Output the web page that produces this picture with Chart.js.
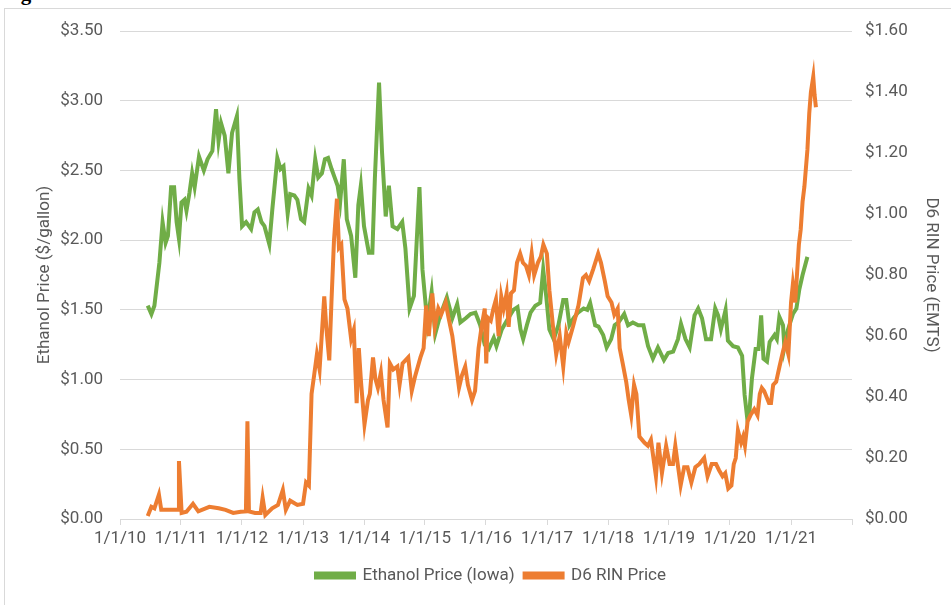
<!DOCTYPE html>
<html>
<head>
<meta charset="utf-8">
<script src="https://cdn.jsdelivr.net/npm/chart.js@4/dist/chart.umd.min.js"></script>
<style>
  html, body { margin: 0; padding: 0; background: #fff; }
  #wrap { position: relative; width: 951px; height: 605px; overflow: hidden; }
  #frame { position: absolute; left: 4px; top: 8px; width: 960px; height: 620px; border: 1px solid #d9d9d9; }
  #title { position: absolute; left: 2px; top: -19px; font: bold 21px "Liberation Serif", serif; color: #000; white-space: nowrap; }
  canvas { position: absolute; left: 0; top: 0; }
</style>
</head>
<body>
<div id="wrap">
  <div id="title">Figure 3. Iowa Ethanol Prices and D6 RIN Prices</div>
  <div id="frame"></div>
  <canvas id="myChart" width="951" height="605"></canvas>
</div>
<script>
// ethanol price, Iowa ($/gallon), left axis
var ethDates = ['2010-06-16','2010-07-08','2010-07-26','2010-08-25','2010-09-13','2010-10-01','2010-10-15','2010-11-03','2010-11-21','2010-12-06','2010-12-20',
  '2011-01-04','2011-01-22','2011-02-03','2011-02-21','2011-03-09','2011-03-24','2011-04-19','2011-05-18','2011-06-09','2011-07-08','2011-07-30','2011-08-14','2011-08-29','2011-09-20','2011-10-12','2011-11-03','2011-12-02','2011-12-17',
  '2012-01-02','2012-01-26','2012-02-25','2012-03-16','2012-04-05','2012-04-27','2012-05-15','2012-06-13','2012-07-01','2012-07-31','2012-08-19','2012-09-06','2012-10-01','2012-10-16','2012-11-10','2012-11-28','2012-12-20',
  '2013-01-08','2013-02-03','2013-02-21','2013-03-15','2013-04-02','2013-04-24','2013-05-12','2013-05-31','2013-06-21','2013-07-09','2013-07-27','2013-08-11','2013-09-02','2013-09-20','2013-10-16','2013-11-10','2013-11-28','2013-12-13',
  '2014-01-01','2014-01-30','2014-02-20','2014-03-07','2014-04-01','2014-04-19','2014-05-11','2014-05-30','2014-06-21','2014-07-20','2014-08-18','2014-09-06','2014-10-01','2014-10-27','2014-11-29','2014-12-17',
  '2015-01-15','2015-02-10','2015-03-04','2015-04-02','2015-05-12','2015-06-14','2015-07-13','2015-08-01','2015-09-02','2015-10-01','2015-10-30','2015-11-28','2015-12-25',
  '2016-01-18','2016-02-17','2016-03-04','2016-04-05','2016-05-04','2016-06-13','2016-07-08','2016-07-26','2016-08-11','2016-09-02','2016-09-24','2016-10-23','2016-11-21','2016-12-09','2016-12-27',
  '2017-01-15','2017-02-10','2017-03-10','2017-04-08','2017-04-26','2017-05-15','2017-06-09','2017-07-05','2017-08-08','2017-08-30','2017-09-16','2017-10-16','2017-11-05','2017-12-03','2017-12-24',
  '2018-01-20','2018-02-10','2018-03-05','2018-04-08','2018-05-01','2018-05-30','2018-07-01','2018-08-01','2018-08-29','2018-09-27','2018-10-27','2018-12-02','2018-12-27',
  '2019-01-26','2019-02-24','2019-03-14','2019-04-10','2019-05-05','2019-06-03','2019-06-25','2019-07-18','2019-08-11','2019-09-10','2019-10-05','2019-10-22','2019-11-08','2019-12-06','2019-12-20',
  '2020-01-20','2020-02-18','2020-03-14','2020-03-29','2020-04-13','2020-04-27','2020-05-12','2020-06-03','2020-06-20','2020-07-06','2020-07-20','2020-08-10','2020-08-26','2020-09-24','2020-10-08','2020-10-23','2020-11-14','2020-11-22','2020-12-14',
  '2021-01-12','2021-02-02','2021-02-20','2021-03-11','2021-04-09'];
var ethPrice = [1.53,1.47,1.53,1.84,2.13,1.98,2.03,2.38,2.38,2.13,2.01,
  2.27,2.29,2.21,2.34,2.48,2.38,2.60,2.50,2.58,2.64,2.94,2.71,2.84,2.75,2.48,2.77,2.89,2.44,
  2.10,2.13,2.08,2.20,2.22,2.13,2.10,1.97,2.22,2.59,2.51,2.53,2.19,2.33,2.32,2.29,2.15,
  2.13,2.37,2.32,2.58,2.45,2.48,2.58,2.59,2.51,2.45,2.39,2.27,2.58,2.15,2.03,1.73,2.25,2.39,
  2.10,1.91,1.91,2.44,3.13,2.63,2.17,2.39,2.10,2.08,2.13,1.94,1.51,1.60,2.38,1.79,
  1.41,1.63,1.33,1.46,1.59,1.44,1.54,1.41,1.44,1.47,1.48,1.39,1.25,
  1.22,1.30,1.24,1.36,1.42,1.50,1.52,1.36,1.29,1.39,1.48,1.53,1.55,1.79,1.60,
  1.36,1.29,1.39,1.57,1.57,1.39,1.44,1.48,1.51,1.50,1.55,1.39,1.38,1.32,1.23,
  1.29,1.39,1.41,1.47,1.39,1.41,1.39,1.39,1.24,1.15,1.23,1.14,1.19,
  1.20,1.29,1.40,1.29,1.23,1.46,1.51,1.44,1.29,1.29,1.51,1.46,1.36,1.50,1.28,
  1.24,1.23,1.17,0.89,0.73,0.77,1.01,1.22,1.22,1.46,1.15,1.13,1.27,1.32,1.29,1.45,1.39,1.23,1.36,
  1.47,1.51,1.65,1.75,1.88];

// D6 RIN price, EMTS ($), right axis
var rinDates = ['2010-06-16','2010-07-08','2010-07-26','2010-08-22','2010-09-05','2010-10-10','2010-11-20','2010-12-15','2010-12-20',
  '2011-01-05','2011-02-03','2011-03-14','2011-04-15','2011-06-20','2011-08-15','2011-09-25','2011-11-10','2011-12-25',
  '2012-01-25','2012-02-03','2012-02-12','2012-03-20','2012-04-22','2012-05-04','2012-05-20','2012-06-30','2012-08-04','2012-09-02','2012-09-20','2012-10-16','2012-11-28',
  '2013-01-01','2013-01-19','2013-02-05','2013-02-21','2013-03-08','2013-03-25','2013-04-10','2013-04-24','2013-05-08','2013-05-20','2013-06-07','2013-06-20','2013-07-05','2013-07-23','2013-08-04','2013-08-18','2013-09-06','2013-09-24','2013-10-16','2013-11-01','2013-11-18','2013-12-01','2013-12-14',
  '2014-01-04','2014-01-25','2014-02-05','2014-02-24','2014-03-10','2014-03-25','2014-04-12','2014-04-28','2014-05-22','2014-06-05','2014-06-25','2014-07-20','2014-08-02','2014-08-20','2014-09-23','2014-10-14','2014-11-04','2014-12-05','2014-12-24',
  '2015-01-08','2015-01-24','2015-02-14','2015-03-01','2015-03-22','2015-04-08','2015-05-05','2015-05-22','2015-06-14','2015-07-05','2015-07-24','2015-08-10','2015-08-30','2015-09-15','2015-10-10','2015-10-28','2015-11-18','2015-12-06','2015-12-25',
  '2016-01-03','2016-01-12','2016-01-30','2016-02-15','2016-03-01','2016-03-17','2016-04-02','2016-04-16','2016-05-04','2016-05-16','2016-05-30','2016-06-17','2016-07-05','2016-07-24','2016-08-10','2016-08-28','2016-09-14','2016-10-01','2016-10-16','2016-11-07','2016-11-25','2016-12-10','2016-12-31',
  '2017-01-15','2017-02-06','2017-02-25','2017-03-18','2017-04-08','2017-04-26','2017-05-10','2017-06-05','2017-07-08','2017-08-04','2017-08-22','2017-09-10','2017-10-05','2017-11-03','2017-11-20','2017-12-13','2017-12-30',
  '2018-01-22','2018-02-08','2018-02-28','2018-03-12','2018-03-30','2018-04-20','2018-05-05','2018-05-20','2018-06-06','2018-06-20','2018-07-08','2018-08-08','2018-08-28','2018-09-15','2018-10-15','2018-10-30','2018-11-20','2018-12-15',
  '2019-01-05','2019-01-25','2019-02-08','2019-02-25','2019-03-12','2019-04-02','2019-04-22','2019-05-15','2019-06-08','2019-07-02','2019-07-31','2019-08-20','2019-09-14','2019-10-10','2019-10-28','2019-11-18','2019-12-04','2019-12-22',
  '2020-01-10','2020-01-24','2020-02-05','2020-02-18','2020-03-08','2020-03-20','2020-03-31','2020-04-16','2020-05-03','2020-05-26','2020-06-14','2020-06-28','2020-07-10','2020-07-24','2020-08-22','2020-09-03','2020-09-16','2020-10-04','2020-10-12','2020-10-24','2020-11-14','2020-11-28','2020-12-16',
  '2021-01-01','2021-01-12','2021-01-26','2021-02-17','2021-02-28','2021-03-11','2021-03-22','2021-04-09','2021-04-20','2021-04-30','2021-05-14','2021-05-22','2021-05-30'];
var rinPrice = [0.01,0.04,0.035,0.08,0.03,0.03,0.03,0.03,0.19,
  0.02,0.024,0.05,0.025,0.04,0.035,0.03,0.02,0.024,
  0.025,0.32,0.025,0.02,0.02,0.07,0.013,0.035,0.046,0.095,0.03,0.06,0.046,
  0.05,0.12,0.11,0.41,0.47,0.54,0.49,0.61,0.73,0.63,0.52,0.71,0.91,1.05,0.89,0.90,0.72,0.69,0.59,0.62,0.38,0.56,0.45,
  0.31,0.39,0.41,0.53,0.46,0.43,0.48,0.39,0.30,0.51,0.49,0.50,0.44,0.51,0.53,0.42,0.47,0.53,0.56,
  0.70,0.60,0.74,0.63,0.69,0.67,0.71,0.66,0.60,0.51,0.43,0.47,0.50,0.44,0.39,0.42,0.56,0.63,0.69,
  0.51,0.66,0.65,0.69,0.72,0.60,0.73,0.69,0.74,0.63,0.74,0.75,0.84,0.87,0.84,0.83,0.80,0.87,0.80,0.84,0.86,0.90,0.87,
  0.75,0.63,0.54,0.60,0.50,0.61,0.58,0.63,0.70,0.79,0.80,0.78,0.82,0.87,0.84,0.78,0.73,
  0.71,0.67,0.69,0.56,0.51,0.45,0.39,0.34,0.44,0.41,0.27,0.25,0.24,0.26,0.14,0.25,0.15,0.24,
  0.18,0.18,0.24,0.17,0.11,0.17,0.17,0.12,0.17,0.18,0.20,0.14,0.18,0.18,0.16,0.14,0.15,0.10,
  0.11,0.18,0.20,0.29,0.25,0.27,0.24,0.32,0.34,0.36,0.34,0.41,0.43,0.42,0.38,0.38,0.44,0.45,0.47,0.50,0.55,0.58,0.54,
  0.71,0.77,0.71,0.90,0.95,1.04,1.09,1.21,1.33,1.40,1.45,1.39,1.35];

var tickYears = [2010,2011,2012,2013,2014,2015,2016,2017,2018,2019,2020,2021,2022];

var font = '"Roboto", sans-serif';
var grey = '#595959';

function toPoints(dates, vals) {
  return dates.map(function(d, i) { return { x: Date.parse(d), y: vals[i] }; });
}

const config = {
  type: 'line',
  data: {
    datasets: [{
      label: 'Ethanol Price (Iowa)',
      data: toPoints(ethDates, ethPrice),
      borderColor: '#70ad47',
      backgroundColor: '#70ad47',
      borderWidth: 4,
      pointRadius: 0,
      yAxisID: 'y',
      order: 1
    }, {
      label: 'D6 RIN Price',
      data: toPoints(rinDates, rinPrice),
      borderColor: '#ed7d31',
      backgroundColor: '#ed7d31',
      borderWidth: 4,
      pointRadius: 0,
      yAxisID: 'y2',
      order: 0
    }]
  },
  options: {
    responsive: false,
    animation: false,
    layout: { padding: { left: 31, right: 0, top: 31, bottom: 11 } },
    plugins: {
      tooltip: { enabled: false },
      legend: {
        position: 'bottom',
        labels: {
          font: { family: font, size: 17 },
          color: grey,
          boxWidth: 38,
          boxHeight: 4,
          padding: 10,
          sort: function(a, b) { return a.datasetIndex - b.datasetIndex; }
        }
      }
    },
    scales: {
      x: {
        type: 'linear',
        min: Date.UTC(2010, 0, 1),
        max: Date.UTC(2022, 0, 1),
        afterBuildTicks: function(scale) {
          scale.ticks = tickYears.map(function(y) { return { value: Date.UTC(y, 0, 1) }; });
        },
        afterFit: function(scale) { scale.height = 38; },
        grid: { drawOnChartArea: false, color: '#d9d9d9', tickLength: 6 },
        border: { color: '#d9d9d9' },
        ticks: {
          autoSkip: false,
          maxRotation: 0,
          color: grey,
          font: { family: font, size: 17 },
          padding: 4,
          callback: function(v) {
            var y = new Date(v).getUTCFullYear();
            return y >= 2022 ? '' : '1/1/' + String(y).slice(2);
          }
        }
      },
      y: {
        position: 'left',
        min: 0, max: 3.5,
        afterFit: function(scale) { scale.width = 89; },
        grid: { color: '#d9d9d9', drawTicks: false },
        border: { display: false },
        ticks: {
          stepSize: 0.5, color: grey, padding: 17,
          font: { family: font, size: 17 },
          callback: function(v) { return '$' + v.toFixed(2); }
        },
        title: {
          display: true, text: 'Ethanol Price ($/gallon)', color: grey,
          font: { family: font, size: 17 }, padding: { top: 4, bottom: 4 }
        }
      },
      y2: {
        position: 'right',
        min: 0, max: 1.6,
        afterFit: function(scale) { scale.width = 99; },
        grid: { drawOnChartArea: false, drawTicks: false },
        border: { display: false },
        ticks: {
          stepSize: 0.2, color: grey, padding: 13,
          font: { family: font, size: 17 },
          callback: function(v) { return '$' + v.toFixed(2); }
        },
        title: {
          display: true, text: 'D6 RIN Price (EMTS)', color: grey,
          font: { family: font, size: 17 }, padding: { top: 10, bottom: 4 }
        }
      }
    }
  }
};

const myChart = new Chart(document.getElementById('myChart'), config);
</script>
</body>
</html>
